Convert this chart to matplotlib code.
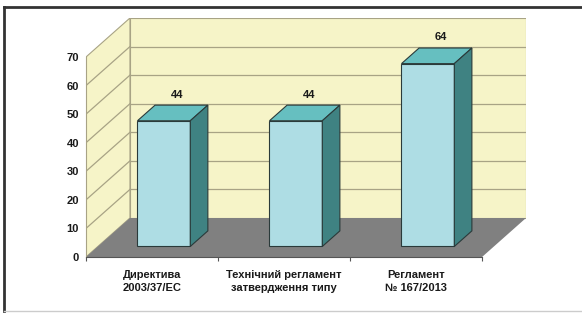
import matplotlib.pyplot as plt
from matplotlib.patches import Polygon
from matplotlib.lines import Line2D

# data
categories = ["Директива\n2003/37/ЕС", "Технічний регламент\nзатвердження типу", "Регламент\n№ 167/2013"]
values = [44, 44, 64]
y_ticks = [0, 10, 20, 30, 40, 50, 60, 70]

plt.rcParams['font.family'] = ['Liberation Sans', 'DejaVu Sans']

# 3d look: depth offset of the back wall in data units
ddx = 0.333
ddy = 13.65
ymax = 70
f0, f1 = 0.27, 0.67   # bar front/back depth fraction
bw = 0.40             # bar width

wall = '#F6F4C8'
grid = '#A8A385'
floor = '#808080'
c_front = '#AEDDE4'
c_top = '#66BFC0'
c_side = '#3F8282'
edge = '#2A3A3A'
txt = '#1A1A1A'

W, H = 582, 313
fig = plt.figure(figsize=(W / 100, H / 100), dpi=100)
ax = fig.add_axes([86 / W, (H - 257) / H, 440 / W, 239 / H])
ax.set_xlim(-0.5, 2.5 + ddx)
ax.set_ylim(0, ymax + ddy)
ax.patch.set_alpha(0)

n = len(categories)
x0, x1 = -0.5, n - 0.5

# walls and floor
ax.add_patch(Polygon([(x0 + ddx, ddy), (x1 + ddx, ddy), (x1 + ddx, ymax + ddy), (x0 + ddx, ymax + ddy)],
                     closed=True, fc=wall, ec=grid, lw=0.8, zorder=1))
ax.add_patch(Polygon([(x0, 0), (x0 + ddx, ddy), (x0 + ddx, ymax + ddy), (x0, ymax)],
                     closed=True, fc=wall, ec=grid, lw=0.8, zorder=1))
ax.add_patch(Polygon([(x0, 0), (x1, 0), (x1 + ddx, ddy), (x0 + ddx, ddy)],
                     closed=True, fc=floor, ec='none', zorder=2))
for v in y_ticks[1:-1]:
    ax.plot([x0 + ddx, x1 + ddx], [v + ddy, v + ddy], color=grid, lw=0.9, zorder=1.5)
    ax.plot([x0, x0 + ddx], [v, v + ddy], color=grid, lw=0.9, zorder=1.5)

# bars
for i, v in enumerate(values):
    xl = i - bw / 2 + f0 * ddx
    xr = xl + bw
    b0 = f0 * ddy
    d = (f1 - f0) * ddx
    dd = (f1 - f0) * ddy
    ax.bar(xl, v, width=bw, bottom=b0, align='edge', color=c_front, edgecolor=edge, lw=0.8, zorder=5)
    ax.add_patch(Polygon([(xl, v + b0), (xr, v + b0), (xr + d, v + b0 + dd), (xl + d, v + b0 + dd)],
                         closed=True, fc=c_top, ec=edge, lw=0.8, zorder=5))
    ax.add_patch(Polygon([(xr, b0), (xr + d, b0 + dd), (xr + d, v + b0 + dd), (xr, v + b0)],
                         closed=True, fc=c_side, ec=edge, lw=0.8, zorder=5))
    ax.annotate(str(v), (i + (f0 + f1) / 2 * ddx + 0.03, v + b0 + dd), xytext=(0, 4),
                textcoords='offset points', ha='center', va='bottom',
                fontsize=8, fontweight='bold', color=txt)

# axes
for s in ['top', 'right']:
    ax.spines[s].set_visible(False)
ax.spines['left'].set_bounds(0, ymax)
ax.spines['left'].set_color(grid)
ax.spines['bottom'].set_bounds(x0, x1)
ax.spines['bottom'].set_color('#555555')
ax.spines['bottom'].set_zorder(6)
ax.set_yticks(y_ticks)
ax.set_yticklabels([str(v) for v in y_ticks], fontsize=8, fontweight='bold', color=txt)
ax.tick_params(axis='y', length=0, pad=5)
ax.set_xticks(range(n))
ax.set_xticklabels(categories, fontsize=8, fontweight='bold', color=txt, linespacing=1.45)
ax.tick_params(axis='x', length=0, pad=9)
ax.set_xticks([x0 + k for k in range(n + 1)], minor=True)
ax.tick_params(axis='x', which='minor', length=3, color='#555555', width=0.8)

# outer frame
fig.add_artist(Line2D([4 / W, 1], [1 - 7 / H, 1 - 7 / H], color='#333333', lw=2))
fig.add_artist(Line2D([4 / W, 4 / W], [1 - 7 / H, 2 / H], color='#333333', lw=2))
fig.add_artist(Line2D([4 / W, 1], [2 / H, 2 / H], color='#CCCCCC', lw=1))

fig.savefig('out.png', dpi=100)
